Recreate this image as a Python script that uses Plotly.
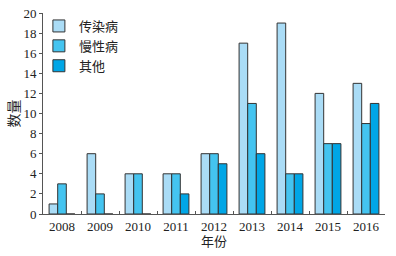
import plotly.graph_objects as go

years = ["2008", "2009", "2010", "2011", "2012", "2013", "2014", "2015", "2016"]
infectious = [1, 6, 4, 4, 6, 17, 19, 12, 13]
chronic = [3, 2, 4, 4, 6, 11, 4, 7, 9]
other = [0, 0, 0, 2, 5, 6, 4, 7, 11]
series_names = ["传染病", "慢性病", "其他"]
colors = ["#aadcf6", "#44c4f0", "#00a6e6"]

font_family = "Liberation Serif, Times New Roman, Noto Sans CJK SC, serif"

fig = go.Figure()
for name, vals, col in zip(series_names, [infectious, chronic, other], colors):
    fig.add_trace(go.Bar(
        x=years, y=vals, name=name,
        marker=dict(color=col, line=dict(color="#333333", width=1)),
    ))

fig.update_layout(
    width=396, height=256,
    margin=dict(l=43, r=11, t=13, b=42, autoexpand=False),
    paper_bgcolor="white", plot_bgcolor="white",
    barmode="group", bargap=0.32, bargroupgap=0,
    font=dict(family=font_family, size=13, color="#222222"),
    showlegend=True,
    legend=dict(x=-0.012, y=1.01, xanchor="left", yanchor="top",
                bgcolor="rgba(0,0,0,0)", font=dict(size=13),
                tracegroupgap=0, itemwidth=30),
    xaxis=dict(
        automargin=False,
        showline=True, linecolor="#555555", linewidth=1,
        ticks="inside", ticklen=3, tickcolor="#555555",
        tickson="boundaries", showgrid=False,
        title=dict(text="年份", standoff=2, font=dict(size=13)),
    ),
    yaxis=dict(
        automargin=False, ticklabeloverflow="allow",
        range=[0, 20], dtick=2, showline=True, linecolor="#555555", linewidth=1,
        ticks="outside", ticklen=3, tickcolor="#555555", showgrid=False,
        zeroline=False,
        title=dict(text="数量", standoff=0, font=dict(size=14)),
    ),
)

fig.write_html("out.html", config={"displayModeBar": False},
               post_script="document.body.style.margin='0';")
